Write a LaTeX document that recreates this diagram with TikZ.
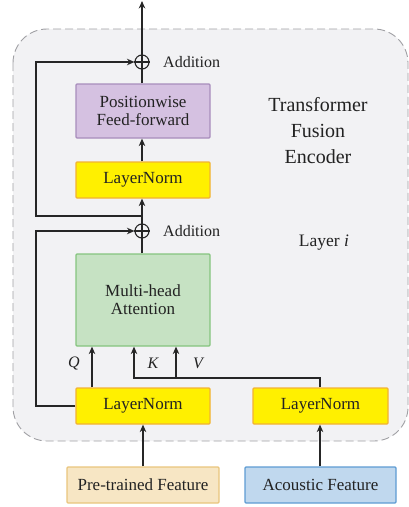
\documentclass[tikz,border=0pt]{standalone}
\usepackage{fontspec}
\setmainfont{Liberation Serif}
\usetikzlibrary{arrows.meta,positioning}
\definecolor{bgc}{HTML}{F2F2F4}
\definecolor{dashc}{HTML}{A0A0A4}
\definecolor{lnfill}{HTML}{FFF000}
\definecolor{lndraw}{HTML}{F2B233}
\definecolor{pufill}{HTML}{D5C1E1}
\definecolor{pudraw}{HTML}{A88DBC}
\definecolor{grfill}{HTML}{C6E2C3}
\definecolor{grdraw}{HTML}{85C47E}
\definecolor{ptfill}{HTML}{F7E6C4}
\definecolor{ptdraw}{HTML}{E9C57C}
\definecolor{acfill}{HTML}{C0D8EE}
\definecolor{acdraw}{HTML}{5D9BD3}
\definecolor{txt}{HTML}{222222}
\definecolor{linec}{HTML}{262626}
\begin{document}
\begin{tikzpicture}[x=1pt,y=-1pt,
  font=\fontsize{17}{19}\selectfont,
  boxc/.style={draw, line width=1.2pt, rounded corners=1pt, align=center, text=txt, inner sep=0pt},
  lnbox/.style={boxc, fill=lnfill, draw=lndraw, minimum width=134pt, minimum height=36pt},
  conn/.style={draw=linec, line width=1.2pt},
  arr/.style={conn, -{Stealth[length=7.5pt,width=6.5pt]}},
  addc/.style={circle, draw=linec, line width=1.1pt, minimum size=14pt, inner sep=0pt},
  lbl/.style={text=txt, inner sep=0pt}]
\useasboundingbox (0,0) rectangle (409,507);
% background dashed region
\draw[fill=bgc, draw=dashc, line width=0.9pt, dash pattern=on 8pt off 4pt, rounded corners=34pt]
  (13,29) rectangle (408,441);
% nodes
\node[boxc, fill=pufill, draw=pudraw, minimum width=134pt, minimum height=54pt] (ffn) at (143,111) {Positionwise\\[-1pt]Feed-forward};
\node[lnbox] (ln1) at (143,180) {LayerNorm};
\node[boxc, fill=grfill, draw=grdraw, minimum width=134pt, minimum height=92pt] (mha) at (143,300) {Multi-head\\[-1pt]Attention};
\node[lnbox] (lnl) at (143,406) {LayerNorm};
\node[lnbox, minimum width=135pt] (lnr) at (320.5,406) {LayerNorm};
\node[boxc, fill=ptfill, draw=ptdraw, minimum width=152pt, minimum height=36pt] (pt) at (143,485) {Pre-trained Feature};
\node[boxc, fill=acfill, draw=acdraw, minimum width=151pt, minimum height=36pt] (ac) at (320.5,485) {Acoustic Feature};
\node[addc] (add2) at (142,62) {};
\node[addc] (add1) at (142,231) {};
\draw[conn] (add2.north) -- (add2.south) (add2.west) -- (add2.east);
\draw[conn] (add1.north) -- (add1.south) (add1.west) -- (add1.east);
\node[lbl, anchor=west, font=\fontsize{16}{18}\selectfont] (a2l) at (163,62) {Addition};
\node[lbl, anchor=west, font=\fontsize{16}{18}\selectfont] (a1l) at (163,231) {Addition};
\node[lbl, align=center, font=\fontsize{20}{26}\selectfont] (title) at (318,131) {Transformer\\Fusion\\Encoder};
\node[lbl, font=\fontsize{17.5}{20}\selectfont] (layer) at (324,243) {Layer \textit{i}};
\coordinate (top) at (142,1);
\coordinate (c1) at (36,62);
\coordinate (c2) at (36,216);
\coordinate (c3) at (142,216);
\coordinate (c4) at (36,231);
\coordinate (c5) at (36,406);
\coordinate (kx) at (134,378);
\coordinate (vx) at (176,378);
\coordinate (rx) at (320,378);
% connectors
\draw[arr] (add2.north) -- (top);
\draw[conn] (ffn.north -| add2) -- (add2.south);
\draw[arr] (ln1.north -| add2) -- (ffn.south -| add2);
\draw[arr] (add1.north) -- (ln1.south -| add1);
\draw[arr] (c3) -- (c2) -- (c1) -- (add2.west);
\draw[conn] (mha.north -| add1) -- (add1.south);
\draw[arr] (lnl.west) -- (c5) -- (c4) -- (add1.west);
\draw[arr] (lnl.north -| 92,0) -- (mha.south -| 92,0);
\draw[arr] (lnr.north -| rx) -- (rx) -- (kx) -- (mha.south -| kx);
\draw[arr] (vx) -- (mha.south -| vx);
\draw[arr] (pt.north) -- (lnl.south);
\draw[arr] (ac.north -| rx) -- (lnr.south -| rx);
\node[lbl, font=\fontsize{16}{18}\selectfont\itshape] (q) at (74,363) {Q};
\node[lbl, font=\fontsize{16}{18}\selectfont\itshape] (k) at (153,363) {K};
\node[lbl, font=\fontsize{16}{18}\selectfont\itshape] (v) at (198,363) {V};
\end{tikzpicture}
\end{document}
